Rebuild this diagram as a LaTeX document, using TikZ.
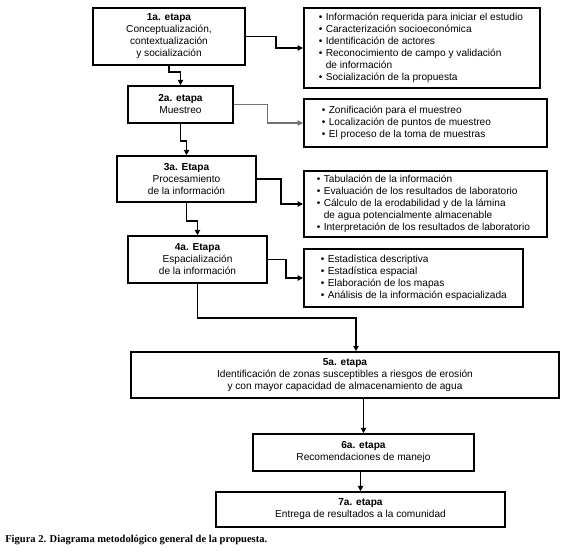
\documentclass[tikz,border=0pt]{standalone}
\usepackage{fontspec}
\setmainfont{Liberation Sans}
\newfontfamily\capfont{Liberation Serif}
\usetikzlibrary{arrows.meta}
\newcommand\bul{\makebox[5.25pt][l]{•}}
\newcommand\hang{\makebox[5.25pt][l]{}}
\begin{document}
\begin{tikzpicture}[x=0.75pt,y=-0.75pt,
  txt/.style={font=\fontsize{7.6}{9}\selectfont},
  stage/.style={draw, line width=1.2pt, align=center, txt, inner sep=0pt},
  listbox/.style={draw, line width=1.2pt, txt, inner ysep=0pt, anchor=west},
  conn/.style={line width=1.1pt, -{Triangle[length=4pt,width=4pt]}},
  lightconn/.style={conn, draw=black!55, line width=0.8pt}
]
\useasboundingbox (0,0) rectangle (578,552);

% stage boxes
\node[stage, minimum width=114pt, minimum height=42.75pt] (b1) at (169,36.5)
  {\textbf{1a. etapa}\\Conceptualización,\\contextualización\\y socialización};
\node[stage, minimum width=78.75pt, minimum height=27.75pt] (b2) at (180.5,104.5)
  {\textbf{2a. etapa}\\Muestreo};
\node[stage, minimum width=104.25pt, minimum height=34.5pt] (b3) at (186.5,179)
  {\textbf{3a. Etapa}\\Procesamiento\\de la información};
\node[stage, minimum width=104.25pt, minimum height=35.25pt] (b4) at (197.5,259.5)
  {\textbf{4a. Etapa}\\Espacialización\\de la información};
\node[stage, minimum width=321pt, minimum height=34.5pt] (b5) at (345,375)
  {\textbf{5a. etapa}\\Identificación de zonas susceptibles a riesgos de erosión\\y con mayor capacidad de almacenamiento de agua};
\node[stage, minimum width=165.75pt, minimum height=27.75pt] (b6) at (363.5,452.5)
  {\textbf{6a. etapa}\\Recomendaciones de manejo};
\node[stage, minimum width=216.75pt, minimum height=26.25pt] (b7) at (360.5,509.5)
  {\textbf{7a. etapa}\\Entrega de resultados a la comunidad};

% list boxes
\node[listbox, inner xsep=11.25pt, minimum height=60pt] (l1) at (303,48)
  {\makebox[154.5pt][l]{\begin{tabular}{@{}l@{}}
  \bul Información requerida para iniciar el estudio\\
  \bul Caracterización socioeconómica\\
  \bul Identificación de actores\\
  \bul Reconocimiento de campo y validación\\
  \hang de información\\
  \bul Socialización de la propuesta
  \end{tabular}}};
\node[listbox, inner xsep=13.5pt, minimum height=36pt] (l2) at (303,123)
  {\makebox[155.25pt][l]{\begin{tabular}{@{}l@{}}
  \bul Zonificación para el muestreo\\
  \bul Localización de puntos de muestreo\\
  \bul El proceso de la toma de muestras
  \end{tabular}}};
\node[listbox, inner xsep=9.75pt, minimum height=49.5pt] (l3) at (303,204)
  {\makebox[162.75pt][l]{\begin{tabular}{@{}l@{}}
  \bul Tabulación de la información\\
  \bul Evaluación de los resultados de laboratorio\\
  \bul Cálculo de la erodabilidad y de la lámina\\
  \hang de agua potencialmente almacenable\\
  \bul Interpretación de los resultados de laboratorio
  \end{tabular}}};
\node[listbox, inner xsep=12.75pt, minimum height=43.5pt] (l4) at (303,278)
  {\makebox[138.75pt][l]{\begin{tabular}{@{}l@{}}
  \bul Estadística descriptiva\\
  \bul Estadística espacial\\
  \bul Elaboración de los mapas\\
  \bul Análisis de la información espacializada
  \end{tabular}}};

% caption
\node[anchor=base west, inner sep=0pt, font=\capfont\bfseries\fontsize{7.9}{9}\selectfont] (cap) at (5,542)
  {Figura 2. Diagrama metodológico general de la propuesta.};

% connectors to lists
\draw[conn] (b1.east) -- ++(30,0) |- (l1.west);
\draw[lightconn] (b2.east) -- ++(34,0) |- (l2.west);
\draw[conn] (b3.east) -- ++(24,0) |- (l3.west);
\draw[conn] (b4.east) -- ++(18,0) |- (l4.west);

% main flow
\draw[conn] (b1.south) -- ++(0,6) -| (b2.north);
\draw[conn] (b2.south) -- ++(0,17) -| (b3.north);
\draw[conn] (b3.south) -- ++(0,18) -| (b4.north);
\draw[conn] (b4.south) -- ++(0,34) -| ([xshift=8.25pt]b5.north);
\draw[conn] (b5.south -| b6.north) -- (b6.north);
\draw[conn] (b6.south -| b7.north) -- (b7.north);
\end{tikzpicture}
\end{document}
